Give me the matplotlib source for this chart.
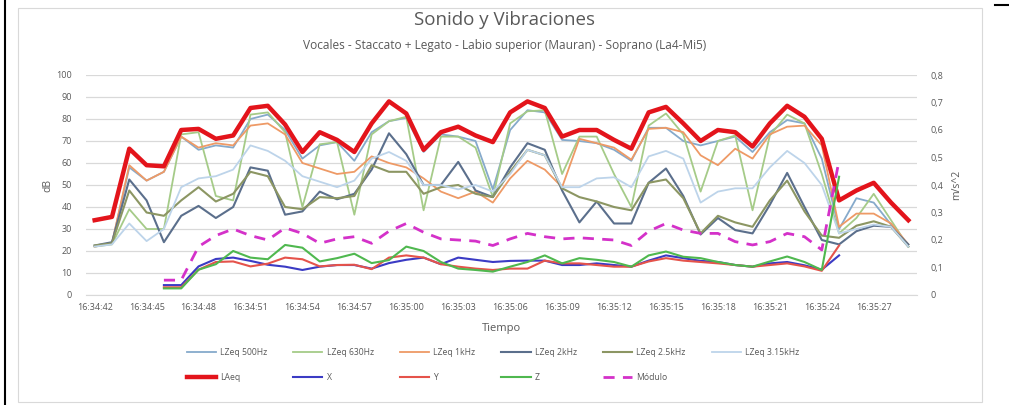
import numpy as np
import matplotlib
matplotlib.use("Agg")
import matplotlib.pyplot as plt
from matplotlib.lines import Line2D

plt.rcParams['font.family'] = ['Open Sans', 'DejaVu Sans']

times = ["16:34:42", "16:34:43", "16:34:44", "16:34:45", "16:34:46", "16:34:47",
         "16:34:48", "16:34:49", "16:34:50", "16:34:51", "16:34:52", "16:34:53",
         "16:34:54", "16:34:55", "16:34:56", "16:34:57", "16:34:58", "16:34:59",
         "16:35:00", "16:35:01", "16:35:02", "16:35:03", "16:35:04", "16:35:05",
         "16:35:06", "16:35:07", "16:35:08", "16:35:09", "16:35:10", "16:35:11",
         "16:35:12", "16:35:13", "16:35:14", "16:35:15", "16:35:16", "16:35:17",
         "16:35:18", "16:35:19", "16:35:20", "16:35:21", "16:35:22", "16:35:23",
         "16:35:24", "16:35:25", "16:35:26", "16:35:27", "16:35:28", "16:35:29"]

lzeq_500 = [22, 23.5, 58, 52, 56, 72, 66, 68, 67, 80, 82, 75, 62, 68, 69.5, 61, 74, 79, 80.5, 65,
            73, 72, 70, 48, 75, 84, 83, 70.5, 70, 69, 66, 61, 76, 76, 70, 68, 70, 72, 65, 74,
            79.5, 78, 62, 30, 44, 42, 32, 22]
lzeq_630 = [22, 23, 39, 30, 30, 73, 74, 45, 43, 82, 83, 74, 40, 68.5, 69.5, 36.5, 73, 79, 81, 38.5,
            72, 72, 67, 44.5, 78, 83.5, 84, 55, 72, 72, 55, 40, 77, 82.5, 73, 47, 70, 72.5, 38.5, 72.5,
            82, 78, 55, 28, 35, 46, 34, 22]
lzeq_1k = [22, 23.5, 59, 52, 56, 72, 67, 69, 68, 77, 78, 73, 60, 57.5, 55, 56, 63, 60, 58, 53,
           47, 44, 47, 42, 53, 61, 57, 49, 71, 69, 67, 61.5, 75.5, 76, 74, 63.5, 59, 66.5, 62, 73,
           76.5, 77, 68, 31, 37, 37, 32.5, 23]
lzeq_2k = [22.5, 24, 52.5, 43, 24, 36, 40.5, 35, 40, 58, 56.5, 36.5, 38, 47, 43.5, 46, 57, 73.5, 64, 50,
           50, 60.5, 47.5, 44.5, 58, 69, 66, 47.5, 33, 42.5, 32.5, 32.5, 51, 57.5, 45, 27.5, 35, 29.5, 28, 41,
           55.5, 40, 25, 23, 29, 31.5, 31, 23]
lzeq_2k5 = [22.5, 23.5, 47.5, 37.5, 36, 43, 49, 42.5, 46, 56, 54, 40, 39, 44.5, 44, 45, 59, 56, 56, 46,
            49, 50, 46, 44.5, 56, 66, 63.5, 48.5, 44.5, 42.5, 40, 38.5, 51, 52.5, 44, 28, 36, 33, 31, 43,
            52, 38, 27, 26, 31.5, 33.5, 31, 22]
lzeq_3k15 = [22, 23, 32.5, 24.5, 30, 49, 53, 54, 57, 68, 65.5, 61, 54, 51.5, 49, 52, 62, 65, 61, 50,
             50, 48, 50, 47, 55, 66, 63.5, 49, 49, 53, 53.5, 49, 63, 65.5, 62, 42, 47, 48.5, 48.5, 58,
             65.5, 60, 50, 28, 30, 32, 31, 22]
laeq = [34, 35.5, 66.5, 59, 58.5, 75, 75.5, 71, 72.5, 85, 86, 77.5, 65, 74, 70.5, 65, 78, 88, 82.5, 66,
        74, 76.5, 72.5, 69.5, 83, 88, 85, 72, 75, 75, 70.5, 66.5, 83, 85.5, 78, 70, 75, 74, 67.5, 78,
        86, 81, 71, 43, 47.5, 51, 42, 34]

vib_x = [None, None, None, None, 0.036, 0.036, 0.104, 0.131, 0.136, 0.124, 0.110, 0.103, 0.091, 0.103,
         0.109, 0.109, 0.096, 0.116, 0.128, 0.136, 0.112, 0.136, 0.128, 0.120, 0.124, 0.125, 0.125,
         0.109, 0.109, 0.115, 0.109, 0.103, 0.125, 0.144, 0.134, 0.124, 0.120, 0.109, 0.103, 0.115,
         0.120, 0.108, 0.092, 0.144, None, None, None, None]
vib_y = [None, None, None, None, 0.028, 0.028, 0.092, 0.120, 0.122, 0.104, 0.114, 0.136, 0.130, 0.104,
         0.109, 0.110, 0.094, 0.136, 0.144, 0.136, 0.112, 0.103, 0.096, 0.091, 0.096, 0.096, 0.125,
         0.115, 0.115, 0.109, 0.103, 0.103, 0.122, 0.134, 0.125, 0.120, 0.115, 0.109, 0.103, 0.109,
         0.115, 0.104, 0.088, 0.180, None, None, None, None]
vib_z = [None, None, None, None, 0.024, 0.024, 0.092, 0.112, 0.160, 0.136, 0.130, 0.182, 0.172, 0.122,
         0.134, 0.150, 0.116, 0.127, 0.176, 0.160, 0.120, 0.096, 0.091, 0.085, 0.103, 0.120, 0.144,
         0.115, 0.134, 0.128, 0.120, 0.103, 0.144, 0.158, 0.139, 0.134, 0.120, 0.109, 0.103, 0.122,
         0.140, 0.120, 0.091, 0.430, None, None, None, None]
modulo = [None, None, None, None, 0.054, 0.054, 0.176, 0.216, 0.240, 0.216, 0.200, 0.244, 0.224, 0.188,
          0.204, 0.212, 0.188, 0.232, 0.260, 0.228, 0.204, 0.200, 0.196, 0.180, 0.204, 0.224, 0.212,
          0.204, 0.208, 0.204, 0.200, 0.180, 0.232, 0.260, 0.236, 0.224, 0.224, 0.194, 0.182, 0.194,
          0.224, 0.212, 0.164, 0.490, None, None, None, None]

db_ticks = [0, 10, 20, 30, 40, 50, 60, 70, 80, 90, 100]
ms_ticks = [0, 0.1, 0.2, 0.3, 0.4, 0.5, 0.6, 0.7, 0.8]
ms_labels = ["0", "0,1", "0,2", "0,3", "0,4", "0,5", "0,6", "0,7", "0,8"]

TXT = '#595959'

def arr(v):
    return np.array([np.nan if a is None else a for a in v], dtype=float)

fig = plt.figure(figsize=(10.09, 4.05), dpi=100)
W, H = 1009, 405
ax = fig.add_axes([86 / W, 1 - 295 / H, (917 - 86) / W, (295 - 75) / H])
ax2 = ax.twinx()

x = np.arange(len(times))

specs_db = [
    ("LZeq 500Hz", lzeq_500, '#86AACB', 1.3, '-'),
    ("LZeq 630Hz", lzeq_630, '#A5CB88', 1.3, '-'),
    ("LZeq 1kHz", lzeq_1k, '#EE9A66', 1.3, '-'),
    ("LZeq 2kHz", lzeq_2k, '#5B6F8C', 1.5, '-'),
    ("LZeq 2.5kHz", lzeq_2k5, '#8C9663', 1.5, '-'),
    ("LZeq 3.15kHz", lzeq_3k15, '#BDD4EA', 1.3, '-'),
]
handles = {}
for name, vals, col, lw, ls in specs_db:
    l, = ax.plot(x, vals, color=col, lw=lw, ls=ls, label=name, zorder=3)
    handles[name] = l
l, = ax.plot(x, laeq, color='#E3141B', lw=3.2, label="LAeq", zorder=4)
handles["LAeq"] = l

specs_v = [
    ("X", vib_x, '#3B3BC4', 1.5, '-'),
    ("Y", vib_y, '#E5534B', 1.5, '-'),
    ("Z", vib_z, '#4FB84F', 1.5, '-'),
]
for name, vals, col, lw, ls in specs_v:
    l, = ax2.plot(x, arr(vals), color=col, lw=lw, ls=ls, label=name, zorder=3)
    handles[name] = l
l, = ax2.plot(x, arr(modulo), color='#D431C9', lw=2.0, ls=(0, (4, 3)), label="Módulo", zorder=3)
handles["Módulo"] = l

ax.set_xlim(-0.5, len(times) - 0.5)
ax.set_ylim(0, 100)
ax2.set_ylim(0, 0.8)
ax.set_yticks(db_ticks)
ax.set_yticklabels([str(t) for t in db_ticks])
ax2.set_yticks(ms_ticks)
ax2.set_yticklabels(ms_labels)
ax.set_xticks(x[::3])
ax.set_xticklabels(times[::3])

ax.grid(axis='y', color='#D9D9D9', lw=0.9)
ax.set_axisbelow(True)
for a in (ax, ax2):
    for s in a.spines.values():
        s.set_visible(False)
    a.tick_params(length=0, labelsize=6.5, colors=TXT)
ax.spines['bottom'].set_visible(True)
ax.spines['bottom'].set_color('#D9D9D9')
ax.tick_params(axis='x', pad=6)
ax.tick_params(axis='y', pad=10)
ax2.tick_params(axis='y', pad=10)

ax.set_ylabel("dB", fontsize=7.5, color=TXT, labelpad=2)
ax2.set_ylabel("m/s^2", fontsize=7.5, color=TXT, labelpad=5)
ax.set_xlabel("Tiempo", fontsize=8, color=TXT, labelpad=8)

fig.text(0.5, 1 - 20 / H, "Sonido y Vibraciones", ha='center', va='center', fontsize=13.5, color=TXT)
fig.text(0.5, 1 - 45 / H, "Vocales - Staccato + Legato - Labio superior (Mauran) - Soprano (La4-Mi5)",
         ha='center', va='center', fontsize=8.6, color=TXT)

order = ["LZeq 500Hz", "LAeq", "LZeq 630Hz", "X", "LZeq 1kHz", "Y", "LZeq 2kHz", "Z",
         "LZeq 2.5kHz", "Módulo", "LZeq 3.15kHz"]
leg = fig.legend([handles[k] for k in order], order, ncol=6, loc='center',
                 bbox_to_anchor=(493 / W, 1 - 365 / H), frameon=False, fontsize=6.2,
                 handlelength=3.4, columnspacing=3.0, labelcolor=TXT, handletextpad=0.5,
                 labelspacing=1.8)

# chart frame
fig.patches.append(plt.Rectangle((18 / W, 1 - 402 / H), (982 - 18) / W, (402 - 8) / H,
                                 transform=fig.transFigure, fill=False, ec='#D9D9D9', lw=0.8))
fig.add_artist(Line2D([5 / W, 5 / W], [0, 1], transform=fig.transFigure, color='black', lw=1.5))
fig.add_artist(Line2D([995 / W, 1], [1 - 5 / H, 1 - 5 / H], transform=fig.transFigure, color='black', lw=1.5))

fig.savefig("out.png", dpi=100)
